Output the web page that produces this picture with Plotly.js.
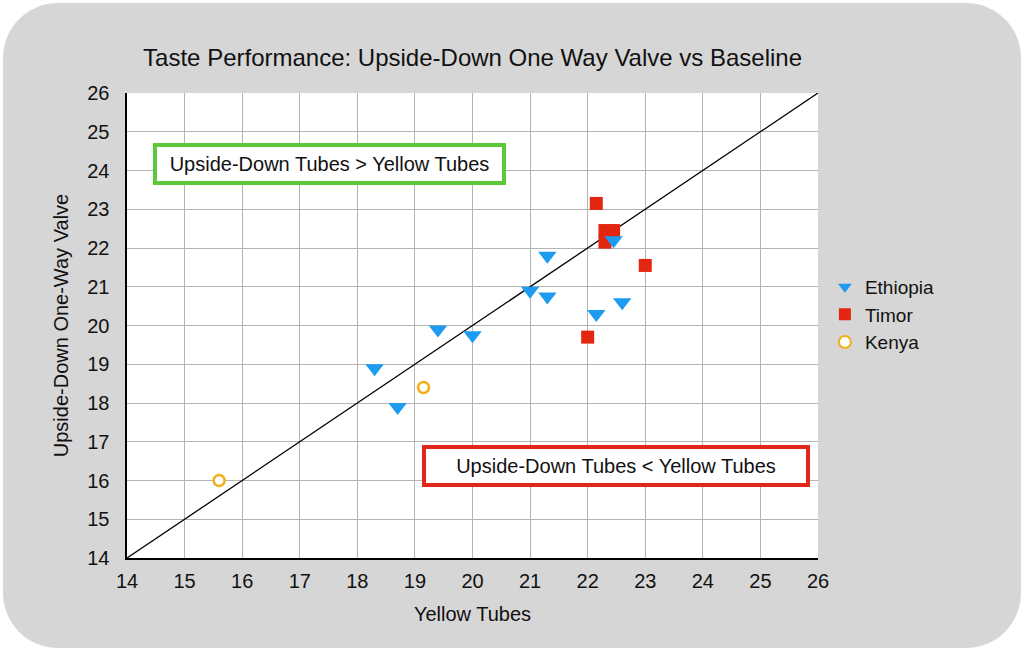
<!DOCTYPE html>
<html>
<head>
<meta charset="utf-8">
<script src="https://cdn.plot.ly/plotly-3.0.1.min.js"></script>
<style>
    html, body { margin: 0; padding: 0; background: #ffffff; }
    #frame {
        position: absolute; left: 3px; top: 3px; width: 1018px; height: 645px;
        background: #d6d6d6; border-radius: 55px;
    }
    #chart { position: absolute; left: 0; top: 0; width: 1024px; height: 651px; }
</style>
</head>
<body>
<div id="frame"></div>
<div id="chart"></div>
<script>
// Yellow tubes (x) vs upside-down one-way valve (y)
const ethiopiaX = [18.3, 18.7, 19.4, 20.0, 21.0, 21.3, 21.3, 22.15, 22.6, 22.45];
const ethiopiaY = [18.9, 17.9, 19.9, 19.75, 20.9, 21.8, 20.75, 20.3, 20.6, 22.2];

const timorX = [22.15, 22.3, 22.45, 22.3, 23.0, 22.0];
const timorY = [23.15, 22.45, 22.45, 22.15, 21.55, 19.7];

const kenyaX = [19.15, 15.6];
const kenyaY = [18.4, 16.0];

const diagLine = [14, 26];
const tickVals = [14, 15, 16, 17, 18, 19, 20, 21, 22, 23, 24, 25, 26];

const fontFamily = '"Liberation Sans", Arial, Helvetica, sans-serif';
const textColor = '#111111';

document.addEventListener('DOMContentLoaded', function() {
    printChart();
});

function printChart() {
    // Timor goes first so the Ethiopia triangles sit on top of the squares
    const data = [
        {
            type: 'scatter',
            mode: 'lines',
            x: diagLine,
            y: diagLine,
            line: { color: '#000000', width: 1.3 },
            showlegend: false,
            hoverinfo: 'skip'
        },
        {
            type: 'scatter',
            mode: 'markers',
            name: 'Timor',
            legendrank: 2,
            x: timorX,
            y: timorY,
            marker: { symbol: 'square', size: 13, color: '#e2260f' }
        },
        {
            type: 'scatter',
            mode: 'markers',
            name: 'Ethiopia',
            legendrank: 1,
            x: ethiopiaX,
            y: ethiopiaY,
            marker: { symbol: 'triangle-down', size: 16, color: '#1d9bf0' }
        },
        {
            type: 'scatter',
            mode: 'markers',
            name: 'Kenya',
            legendrank: 3,
            x: kenyaX,
            y: kenyaY,
            marker: {
                symbol: 'circle',
                size: 11,
                color: '#ffffff',
                line: { color: '#f0b01c', width: 2.6 }
            }
        }
    ];

    const axisBase = {
        range: [14, 26],
        tickvals: tickVals,
        ticks: '',
        showgrid: true,
        gridcolor: '#b4b4b4',
        gridwidth: 1,
        zeroline: false,
        showline: true,
        linecolor: '#000000',
        linewidth: 1.6,
        tickfont: { family: fontFamily, size: 20, color: textColor },
        fixedrange: true
    };

    const layout = {
        width: 1024,
        height: 651,
        paper_bgcolor: 'rgba(0,0,0,0)',
        plot_bgcolor: '#ffffff',
        margin: { l: 127, r: 206, t: 93, b: 93 },
        title: {
            text: 'Taste Performance: Upside-Down One Way Valve vs Baseline',
            font: { family: fontFamily, size: 24, color: textColor },
            x: 0.4615,
            xanchor: 'center',
            y: 0.912,
            yanchor: 'middle'
        },
        xaxis: Object.assign({}, axisBase, {
            title: {
                text: 'Yellow Tubes',
                font: { family: fontFamily, size: 20, color: textColor },
                standoff: 16
            },
            ticklabelstandoff: 4
        }),
        yaxis: Object.assign({}, axisBase, {
            title: {
                text: 'Upside-Down One-Way Valve',
                font: { family: fontFamily, size: 20, color: textColor },
                standoff: 13
            },
            ticklabelstandoff: 12
        }),
        showlegend: true,
        legend: {
            x: 1.01,
            y: 0.523,
            xanchor: 'left',
            yanchor: 'middle',
            bgcolor: 'rgba(0,0,0,0)',
            font: { family: fontFamily, size: 19, color: textColor },
            tracegroupgap: 0,
            itemsizing: 'constant'
        },
        annotations: [
            {
                x: 17.51,
                y: 24.17,
                xref: 'x',
                yref: 'y',
                text: 'Upside-Down Tubes &gt; Yellow Tubes',
                showarrow: false,
                font: { family: fontFamily, size: 20, color: textColor },
                bgcolor: '#ffffff',
                bordercolor: '#5cc93b',
                borderwidth: 4,
                borderpad: 3,
                width: 339,
                height: 28
            },
            {
                x: 22.49,
                y: 16.37,
                xref: 'x',
                yref: 'y',
                text: 'Upside-Down Tubes &lt; Yellow Tubes',
                showarrow: false,
                font: { family: fontFamily, size: 20, color: textColor },
                bgcolor: '#ffffff',
                bordercolor: '#e2261a',
                borderwidth: 4,
                borderpad: 3,
                width: 374,
                height: 28
            }
        ],
        hovermode: 'closest'
    };

    Plotly.newPlot('chart', data, layout, { displayModeBar: false, staticPlot: true });
}
</script>
</body>
</html>
